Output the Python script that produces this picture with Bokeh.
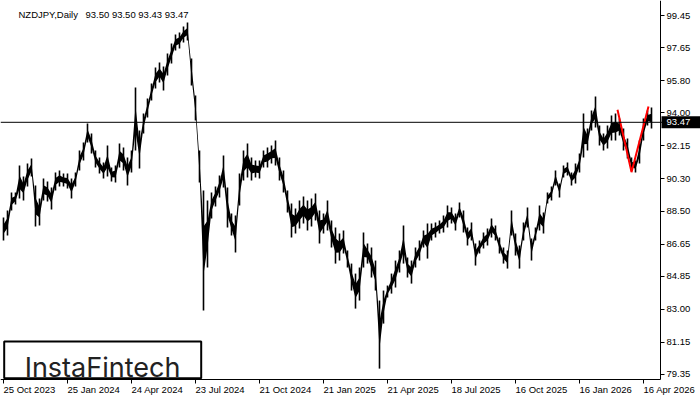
from bokeh.plotting import figure
from bokeh.models import (Range1d, FixedTicker, Span, Label, LabelSet, ColumnDataSource,
                          PrintfTickFormatter, BoxAnnotation)
from bokeh.embed import file_html
from bokeh.resources import INLINE
from bokeh.core.properties import value

# ---------------- data ----------------
symbol = "NZDJPY"
timeframe = "Daily"
last_ohlc = [93.50, 93.50, 93.43, 93.47]
last_price = 93.47

# trading-day index of each sampled bar (every 4th trading day)
day = list(range(0, 652, 4))

high = [88.14, 88.53, 89.54, 89.54, 91.05, 90.43, 91.16, 91.44, 89.93, 89.20,
        90.32, 90.15, 89.82, 90.66, 90.77, 90.60, 90.60, 90.32, 90.66, 91.89,
        92.34, 93.40, 92.84, 91.89, 91.50, 91.22, 92.17, 90.94, 91.05, 92.28,
        92.06, 91.50, 91.89, 95.42, 93.01, 93.96, 94.80, 95.64, 96.54, 96.82,
        96.59, 97.32, 97.88, 98.39, 98.50, 98.83, 99.06, 97.04, 94.97, 91.89,
        89.65, 89.09, 89.54, 89.87, 90.49, 91.61, 89.82, 88.36, 88.25, 90.60,
        91.89, 92.28, 91.50, 91.33, 91.33, 91.89, 92.06, 92.17, 92.45, 91.50,
        90.77, 89.65, 88.92, 88.64, 89.09, 89.31, 89.09, 89.20, 89.48, 88.53,
        88.36, 89.09, 87.97, 87.58, 87.24, 87.41, 86.29, 85.56, 85.00, 85.34,
        87.30, 86.68, 86.46, 85.73, 83.49, 84.05, 84.33, 85.00, 85.73, 86.29,
        87.69, 85.90, 85.73, 86.46, 86.85, 87.41, 87.80, 87.80, 87.86, 87.97,
        88.25, 88.81, 88.70, 88.36, 88.98, 88.53, 87.58, 87.86, 86.68, 86.85,
        87.30, 87.52, 88.08, 87.69, 87.02, 86.46, 86.29, 88.53, 87.24, 86.57,
        87.86, 88.70, 86.96, 87.58, 88.81, 88.42, 89.54, 89.87, 90.77, 90.04,
        91.05, 91.22, 90.66, 91.16, 91.72, 93.96, 93.12, 94.13, 94.91, 93.29,
        92.84, 93.29, 93.85, 93.96, 93.68, 93.12, 92.56, 91.50, 91.33, 92.45,
        93.68, 94.13, 94.30]

low = [86.85, 87.13, 88.53, 88.87, 89.20, 89.09, 89.87, 90.43, 87.63, 87.69,
       89.09, 89.03, 88.59, 89.65, 89.87, 89.87, 89.76, 89.20, 89.87, 90.77,
       91.33, 92.34, 91.72, 90.94, 90.60, 90.32, 90.43, 90.15, 90.10, 90.94,
       90.77, 89.93, 90.66, 91.89, 90.88, 92.84, 93.74, 94.69, 95.36, 95.70,
       95.25, 96.09, 96.76, 97.49, 97.60, 97.94, 98.05, 95.53, 93.57, 90.10,
       82.93, 85.34, 88.08, 88.75, 89.26, 89.82, 87.58, 87.13, 86.18, 88.81,
       90.21, 90.38, 90.21, 90.38, 90.32, 90.94, 90.94, 91.16, 91.05, 90.21,
       89.54, 88.42, 87.02, 87.24, 87.52, 87.80, 87.41, 87.63, 87.97, 86.68,
       87.24, 87.41, 86.46, 85.56, 85.73, 86.12, 85.34, 84.05, 83.04, 83.49,
       85.34, 85.56, 84.78, 84.05, 79.68, 82.20, 83.66, 83.88, 84.22, 85.06,
       85.56, 84.78, 84.44, 85.34, 85.73, 86.46, 85.84, 86.85, 87.02, 87.24,
       87.30, 87.58, 87.80, 87.41, 88.14, 87.30, 86.57, 86.85, 85.45, 86.12,
       86.40, 86.57, 87.02, 86.85, 86.12, 85.56, 85.28, 87.13, 86.01, 85.28,
       86.85, 87.58, 85.73, 86.85, 87.41, 87.24, 88.92, 89.09, 89.93, 89.26,
       90.38, 90.49, 89.93, 90.04, 90.66, 91.50, 91.89, 93.01, 93.18, 92.17,
       91.89, 92.00, 92.45, 92.45, 92.73, 91.89, 91.44, 90.77, 90.66, 91.16,
       92.45, 93.29, 93.12]

# pattern (red V)
pattern_day = [614, 628, 645]
pattern_price = [94.17, 90.68, 94.36]

# axes
tick_days = [0, 64, 128, 192, 256, 320, 384, 448, 512, 576, 640]
tick_labels = ["25 Oct 2023", "25 Jan 2024", "24 Apr 2024", "23 Jul 2024",
               "21 Oct 2024", "21 Jan 2025", "21 Apr 2025", "18 Jul 2025",
               "16 Oct 2025", "16 Jan 2026", "16 Apr 2026"]
y_ticks = [79.35, 81.15, 83.00, 84.85, 86.65, 88.50, 90.30, 92.15, 94.00,
           95.80, 97.65, 99.45]

# chart window: visible bars and price scale
X_START, X_END = -3, 697          # canvas spans these trading days
AXIS_DAY = 657                     # price scale sits after the last visible day
Y_TOP, Y_AXIS, Y_BOTTOM = 100.29, 79.07, 77.894

W, H = 700, 400
FONT = "Liberation Sans"
FS = "9.5px"

# ---------------- figure ----------------
p = figure(width=W, height=H, x_range=Range1d(X_START, X_END),
           y_range=Range1d(Y_BOTTOM, Y_TOP),
           output_backend="svg", toolbar_location=None, y_axis_location="right",
           min_border_left=0, min_border_top=0, min_border_right=0, min_border_bottom=0)
p.outline_line_color = None
p.grid.visible = False
p.background_fill_color = "white"
p.border_fill_color = "white"

# price trace: a body band through the bars plus the full high-low wicks
core_lo = [l + 0.3 * (h - l) for h, l in zip(high, low)]
core_hi = [h - 0.3 * (h - l) for h, l in zip(high, low)]
p.varea(x=day, y1=core_lo, y2=core_hi, fill_color="black")
p.vbar(x=day, width=1.6, top=high, bottom=low, fill_color="black", line_color=None)

p.add_layout(Span(location=last_price, dimension="width", line_color="black", line_width=1))

p.line(pattern_day, pattern_price, line_color="#ff0000", line_width=2)

# y axis (right), pinned at the end of the bar area
yax = p.yaxis[0]
yax.fixed_location = AXIS_DAY
yax.bounds = (Y_AXIS, Y_TOP)
yax.ticker = FixedTicker(ticks=y_ticks)
yax.formatter = PrintfTickFormatter(format="%.2f")
yax.major_tick_in = 0
yax.major_tick_out = 4
yax.minor_tick_in = 0
yax.minor_tick_out = 0
yax.major_label_standoff = 2
yax.major_label_text_font = FONT
yax.major_label_text_font_size = FS
yax.major_label_text_color = "black"
yax.axis_line_color = "black"
yax.major_tick_line_color = "black"

# x axis (bottom), ticks only; labels left-aligned like the terminal
xax = p.xaxis[0]
xax.fixed_location = Y_AXIS
xax.bounds = (X_START, AXIS_DAY)
xax.ticker = FixedTicker(ticks=tick_days)
xax.major_label_overrides = {d: "" for d in tick_days}
xax.major_tick_in = 0
xax.major_tick_out = 4
xax.minor_tick_in = 0
xax.minor_tick_out = 0
xax.axis_line_color = "black"
xax.major_tick_line_color = "black"

xsrc = ColumnDataSource(dict(day=tick_days, text=tick_labels))
p.add_layout(LabelSet(x="day", y=11.5, y_units="screen", text="text", source=xsrc,
                      text_align="left", text_baseline="middle",
                      text_font=value(FONT), text_font_size=FS, text_color="black"))

# title
p.add_layout(Label(x=18, y=386, x_units="screen", y_units="screen",
                   text=f"{symbol},{timeframe}", text_font=FONT, text_font_size=FS,
                   text_color="black", text_align="left", text_baseline="alphabetic"))
p.add_layout(Label(x=85, y=386, x_units="screen", y_units="screen",
                   text=" ".join(f"{v:.2f}" for v in last_ohlc), text_font=FONT,
                   text_font_size=FS, text_color="black", text_align="left",
                   text_baseline="alphabetic"))

# price tag on the scale
half_tag = 6 * (Y_TOP - Y_BOTTOM) / H
p.add_layout(BoxAnnotation(left=AXIS_DAY + 1, right=X_END, top=last_price + half_tag,
                           bottom=last_price - half_tag, fill_color="black", fill_alpha=1,
                           line_color=None))
p.add_layout(Label(x=AXIS_DAY + 6, y=last_price, text=f"{last_price:.2f}",
                   text_font=FONT, text_font_size=FS, text_color="white",
                   text_align="left", text_baseline="middle"))

# logo
p.add_layout(BoxAnnotation(left=3.7, right=200.7, bottom=22.3, top=59, left_units="screen",
                           right_units="screen", top_units="screen", bottom_units="screen",
                           fill_color="white", fill_alpha=1, line_color="black",
                           line_alpha=1, line_width=2))
p.add_layout(Label(x=102, y=33, x_units="screen", y_units="screen", text="InstaFintech",
                   text_font="Inter", text_font_size="27px", text_color="#222222",
                   text_align="center", text_baseline="alphabetic"))

open("out.html", "w").write(file_html(p, INLINE))
